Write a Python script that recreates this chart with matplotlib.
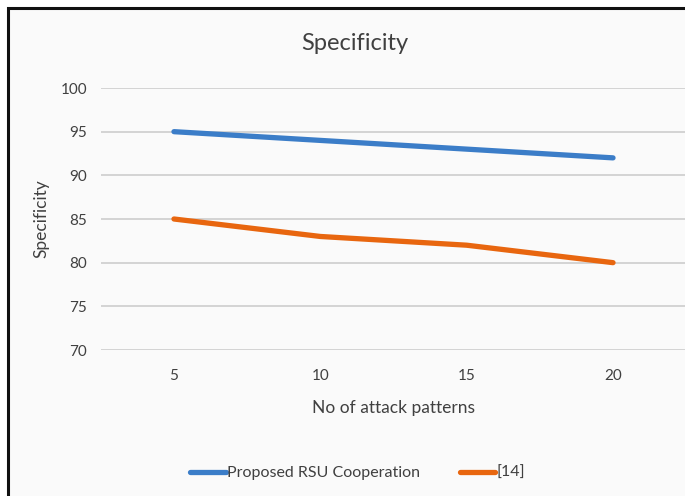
import matplotlib
matplotlib.use("Agg")
import matplotlib.pyplot as plt
from matplotlib.patches import Rectangle
from matplotlib.lines import Line2D

# data
patterns = ["5", "10", "15", "20"]
proposed = [95, 94, 93, 92]
ref14 = [85, 83, 82, 80]
yticks = [70, 75, 80, 85, 90, 95, 100]

plt.rcParams["font.family"] = ["Lato", "DejaVu Sans"]

W, H = 685, 496
fig = plt.figure(figsize=(W / 100, H / 100), dpi=100)
fig.patch.set_facecolor("white")

# chart frame (cropped on the right and bottom)
bg = Rectangle((8 / W, -0.05), 1.1, 1 - 8 / H + 0.05, transform=fig.transFigure,
               facecolor="#fafafa", edgecolor="#111111", linewidth=2.2, zorder=-10)
fig.patches.append(bg)

left, right = 100.8 / W, 686.2 / W
bottom, top = 1 - 350 / H, 1 - 88 / H
ax = fig.add_axes([left, bottom, right - left, top - bottom])
ax.set_facecolor("none")
ax.set_zorder(1)

x = range(len(patterns))
ax.plot(x, proposed, color="#3b7dc8", linewidth=3.8, solid_capstyle="round", zorder=3)
ax.plot(x, ref14, color="#e8660f", linewidth=3.8, solid_capstyle="round", zorder=3)

ax.set_xlim(-0.5, 3.5)
ax.set_ylim(70, 100)
ax.set_yticks(yticks)
ax.set_xticks(list(x))
ax.set_xticklabels(patterns)
ax.yaxis.grid(True, color="#d0d0d0", linewidth=1.3)
ax.set_axisbelow(True)
for s in ax.spines.values():
    s.set_visible(False)
ax.tick_params(length=0, labelsize=11, labelcolor="#404040")
ax.tick_params(axis="y", pad=10)
ax.tick_params(axis="x", pad=14)

ax.set_xlabel("No of attack patterns", fontsize=12.5, color="#404040", labelpad=12)
ax.set_ylabel("Specificity", fontsize=12.5, color="#404040", labelpad=8)

fig.text(355 / W, 1 - 43 / H, "Specificity", ha="center", va="center",
         fontsize=17, color="#404040")

handles = [Line2D([], [], color="#3b7dc8", linewidth=3.8, solid_capstyle="round"),
           Line2D([], [], color="#e8660f", linewidth=3.8, solid_capstyle="round")]
fig.legend(handles, ["Proposed RSU Cooperation", "[14]"], loc="center",
           bbox_to_anchor=(358 / W, 1 - 473 / H), ncol=2, frameon=False,
           fontsize=11.5, handlelength=2.2, handletextpad=0.1, columnspacing=2.5,
           labelcolor="#404040")

fig.savefig("out.png", dpi=100)
